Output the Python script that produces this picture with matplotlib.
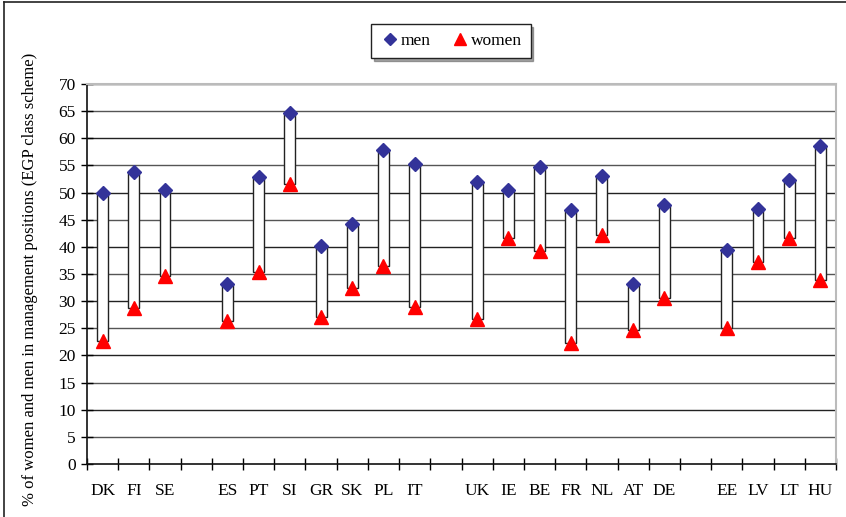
import numpy as np
import matplotlib.pyplot as plt
from matplotlib.lines import Line2D

# empty strings are the gaps between the country groups
countries = ['DK', 'FI', 'SE', '', 'ES', 'PT', 'SI', 'GR', 'SK', 'PL', 'IT', '',
             'UK', 'IE', 'BE', 'FR', 'NL', 'AT', 'DE', '', 'EE', 'LV', 'LT', 'HU']
men = [50.0, 53.8, 50.5, None, 33.2, 52.8, 64.6, 40.2, 44.3, 57.9, 55.2, None,
       52.0, 50.5, 54.8, 46.7, 53.1, 33.1, 47.8, None, 39.4, 47.0, 52.3, 58.5]
women = [22.7, 28.7, 34.6, None, 26.3, 35.4, 51.5, 27.1, 32.5, 36.5, 29.0, None,
         26.8, 41.6, 39.2, 22.2, 42.1, 24.7, 30.6, None, 25.0, 37.3, 41.6, 33.9]

plt.rcParams['font.family'] = ['Liberation Serif', 'DejaVu Serif']

fig = plt.figure(figsize=(8.46, 5.17), dpi=100)
ax = fig.add_axes([87/846, 53/517, 749/846, 380/517])

x = np.arange(len(countries))
idx = [i for i, m in enumerate(men) if m is not None]
xm = x[idx]
m = np.array([men[i] for i in idx])
w = np.array([women[i] for i in idx])

# gridlines
for v in range(5, 75, 5):
    ax.axhline(v, color='#222222' if v % 10 == 0 else '#555555', lw=1.0, zorder=1)

ax.bar(xm, m - w, bottom=w, width=0.35, color='white', edgecolor='#222222',
       linewidth=1.0, zorder=2)
ax.plot(xm, m, 'D', color='#333399', markersize=7, zorder=3, label='men')
ax.plot(xm, w, '^', color='#ff0000', markersize=10.5, zorder=3, label='women')

ax.set_xlim(-0.5, len(countries) - 0.5)
ax.set_ylim(0, 70)
ax.set_yticks(range(0, 75, 5))
ax.set_xticks(np.arange(-0.5, len(countries), 1.0))
ax.set_xticklabels([])
ax.set_xticks(x, minor=True)
ax.set_xticklabels(countries, minor=True)
ax.tick_params(axis='x', which='major', direction='inout', length=8, width=1)
ax.tick_params(axis='x', which='minor', length=0, pad=14, labelsize=12.5)
ax.tick_params(axis='y', direction='inout', length=8, width=1, labelsize=12.5, pad=4)

for s in ['top', 'right']:
    ax.spines[s].set_color('#bbbbbb')
    ax.spines[s].set_linewidth(1.5)
for s in ['left', 'bottom']:
    ax.spines[s].set_color('#111111')
    ax.spines[s].set_linewidth(1.2)

fig.text(30/846, 1 - 279/517, '% of women and men in management positions (EGP class scheme)',
         rotation=90, ha='center', va='center', fontsize=12)

# legend box
handles = [Line2D([], [], marker='D', ls='', color='#333399', markersize=6, label='men'),
           Line2D([], [], marker='^', ls='', color='#ff0000', markersize=9, label='women')]
leg = fig.legend(handles=handles, loc='center', bbox_to_anchor=(451/846, 1 - 41/517),
                 ncol=2, frameon=True, fancybox=False, shadow=True, fontsize=12.5,
                 handletextpad=0.1, columnspacing=1.1, borderpad=0.5, handlelength=1.1)
leg.get_frame().set_edgecolor('#222222')
leg.get_frame().set_linewidth(1.0)

# outer frame (left and top edges visible)
fig.add_artist(Line2D([4/846, 4/846], [0, 1 - 2/517], color='#222222', lw=1.2))
fig.add_artist(Line2D([4/846, 1], [1 - 2/517, 1 - 2/517], color='#222222', lw=1.2))

fig.savefig('out.png', dpi=100)
